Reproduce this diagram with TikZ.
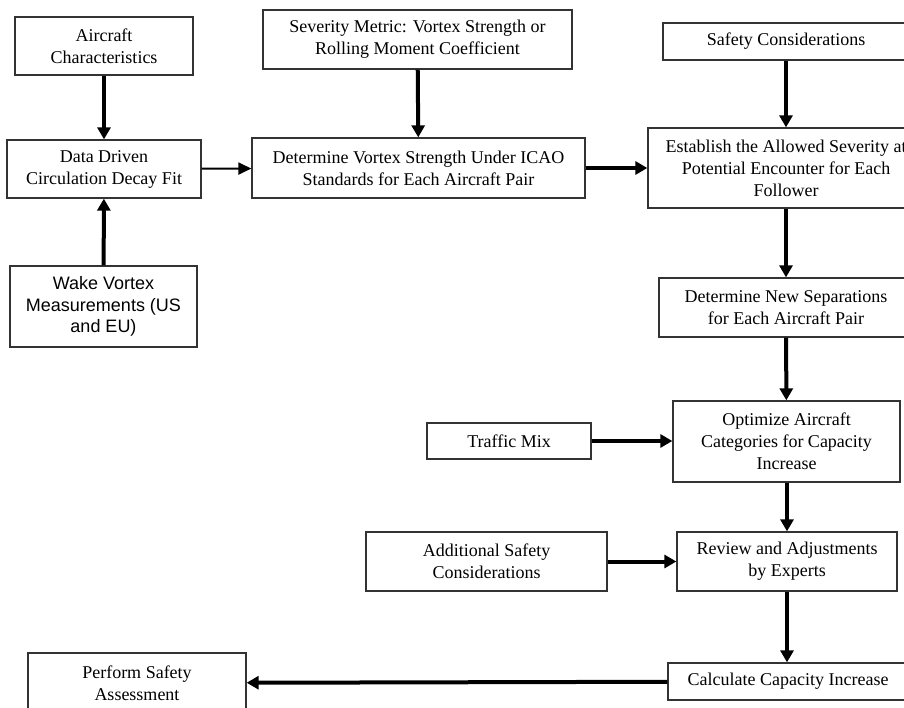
\documentclass[tikz,border=0pt]{standalone}
\usepackage{fontspec}
\setmainfont{Liberation Serif}
\newfontfamily\arialfont{Liberation Sans}
\usepackage{tikz}
\usetikzlibrary{arrows.meta}
\tikzset{
  box_/.style  = {shape=rectangle, draw=black!80, line width=1.3pt, align=center, inner sep=0pt,
                  font=\fontsize{18}{22}\selectfont},
  sbox_/.style = {box_, font=\arialfont\fontsize{18}{21.5}\selectfont},
  link_/.style = {draw, line width=4pt, -{Triangle[length=12pt,width=13pt]}},
  thin_/.style = {draw, line width=2pt, -{Triangle[length=13pt,width=12pt]}}
}
\begin{document}
\begin{tikzpicture}
		[
		x = 1pt, y = -1pt
		]
		\useasboundingbox (0,0) rectangle (904,707);
		\clip (0,0) rectangle (904,707);
		% left column
		\node [box_, minimum width=178, minimum height=58] (aircraft) at (104,46) {Aircraft\\Characteristics};
		\node [box_, minimum width=194, minimum height=58] (fit) at (104,169) {Data Driven\\Circulation Decay Fit};
		\node [sbox_, minimum width=187, minimum height=81] (wake) at (103.5,306.5) {Wake Vortex\\Measurements (US\\and EU)};
		% middle column
		\node [box_, minimum width=309, minimum height=59] (metric) at (417.5,39.5) {Severity Metric: Vortex Strength or\\Rolling Moment Coefficient};
		\node [box_, minimum width=333, minimum height=60] (strength) at (418.5,168) {Determine Vortex Strength Under ICAO\\Standards for Each Aircraft Pair};
		\node [box_, minimum width=164, minimum height=36] (traffic) at (509,441) {Traffic Mix};
		\node [box_, minimum width=241, minimum height=59] (addsafety) at (486.5,561.5) {Additional Safety\\Considerations};
		\node [box_, minimum width=218, minimum height=60] (assess) at (137,683) {Perform Safety\\Assessment};
		% right column
		\node [box_, minimum width=246, minimum height=37] (safety) at (786,41.5) {Safety Considerations};
		\node [box_, minimum width=276, minimum height=80] (allowed) at (786,168) {Establish the Allowed Severity at\\Potential Encounter for Each\\Follower};
		\node [box_, minimum width=254, minimum height=59] (newsep) at (786,307.5) {Determine New Separations\\for Each Aircraft Pair};
		\node [box_, minimum width=227, minimum height=81] (optimize) at (786.5,441.5) {Optimize Aircraft\\Categories for Capacity\\Increase};
		\node [box_, minimum width=220, minimum height=59] (review) at (787,561.5) {Review and Adjustments\\by Experts};
		\node [box_, minimum width=240, minimum height=37] (capacity) at (788,681.5) {Calculate Capacity Increase};
		% connectors
		\draw [link_] (aircraft) -- (fit);
		\draw [link_] (wake) -- (fit);
		\draw [thin_] (fit) -- (strength);
		\draw [link_] (metric) -- (strength);
		\draw [link_] (strength) -- (allowed);
		\draw [link_] (safety) -- (allowed);
		\draw [link_] (allowed) -- (newsep);
		\draw [link_] (newsep) -- (optimize);
		\draw [link_] (traffic.east) -- (traffic.east -| optimize.west);
		\draw [link_] (optimize.south -| review.north) -- (review.north);
		\draw [link_] (addsafety) -- (review);
		\draw [link_] (review.south) -- (review.south |- capacity.north);
		\draw [link_] (capacity) -- (assess);
\end{tikzpicture}
\end{document}
